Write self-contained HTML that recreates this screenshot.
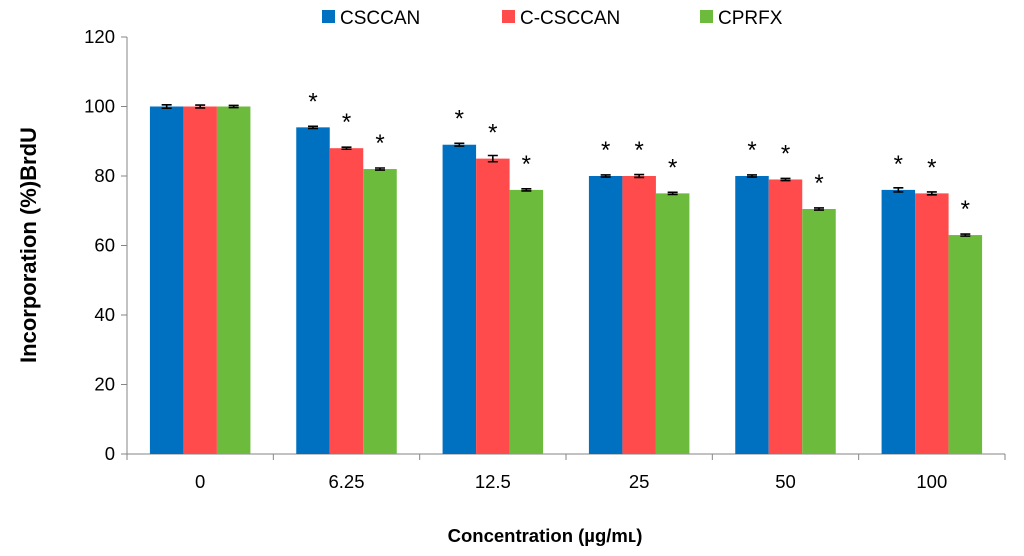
<!DOCTYPE html>
<html><head><meta charset="utf-8"><style>
html,body{margin:0;padding:0;background:#fff;}
svg{display:block;font-family:"Liberation Sans","DejaVu Sans",sans-serif;}
</style></head><body>
<svg id="chart" width="1024" height="556" viewBox="0 0 1024 556"></svg>
<script>
const categories = ["0","6.25","12.5","25","50","100"];
const seriesNames = ["CSCCAN","C-CSCCAN","CPRFX"];
const csccan = [100,94,89,80,80,76];
const ccsccan = [100,88,85,80,79,75];
const cprfx = [100,82,76,75,70.5,63];
const errCsccan = [0.5,0.3,0.4,0.3,0.3,0.6];
const errCcsccan = [0.4,0.3,0.9,0.4,0.3,0.4];
const errCprfx = [0.3,0.3,0.3,0.3,0.3,0.3];
const starred = [false,true,true,true,true,true];
const yTicks = [0,20,40,60,80,100,120];
const colors = ["#0070C0","#FF4B4B","#6CBB3C"];

const NS="http://www.w3.org/2000/svg";
const svg=document.getElementById('chart');
const x0=127,x1=1005,yBase=454,yTop=37,yMax=120;
const yS=v=>yBase-(v/yMax)*(yBase-yTop);
const gw=(x1-x0)/categories.length;
const gC=i=>x0+gw*(i+0.5);
const bw=33.5;
function mk(t,a,p){const e=document.createElementNS(NS,t);for(const k in a)e.setAttribute(k,a[k]);(p||svg).appendChild(e);return e;}

let ax=mk('line',{x1:x0,y1:yTop,x2:x0,y2:yBase,stroke:'#868686','stroke-width':1});


let xa=mk('line',{x1:x0,y1:yBase,x2:x1,y2:yBase,stroke:'#868686','stroke-width':1});


yTicks.forEach(v=>{
  const y=yS(v);
  let tk=mk('line',{x1:x0-6,y1:y,x2:x0,y2:y,stroke:'#868686'});
  
  
  let t=mk('text',{x:x0-12,y:y+6,'text-anchor':'end','font-size':18.5,fill:'#000'});
  t.textContent=v;
  
  
});
for(let i=0;i<=categories.length;i++){
  let tk=mk('line',{x1:x0+gw*i,y1:yBase,x2:x0+gw*i,y2:yBase+6,stroke:'#868686'});
  
  
}
categories.forEach((c,i)=>{
  let t=mk('text',{x:gC(i),y:yBase+34,'text-anchor':'middle','font-size':18.5,fill:'#000'});
  t.textContent=c;
  
  
});
const vals=[csccan,ccsccan,cprfx], errs=[errCsccan,errCcsccan,errCprfx];
categories.forEach((c,i)=>{
  for(let s=0;s<3;s++){
    const v=vals[s][i], cx=gC(i)+(s-1)*bw;
    let r=mk('rect',{x:cx-bw/2,y:yS(v),width:bw,height:yBase-yS(v),fill:colors[s]});
    
    
    const e=errs[s][i];
    let eb=mk('path',{d:`M${cx-5},${yS(v+e)}H${cx+5}M${cx},${yS(v+e)}V${yS(v-e)}M${cx-5},${yS(v-e)}H${cx+5}`,stroke:'#000','stroke-width':1.6,fill:'none'});
    
    
    if(starred[i]){
      let st=mk('text',{x:cx,y:yS(v)-18,'text-anchor':'middle','font-size':24,fill:'#000'});
      st.textContent='*';
      
      
    }
  }
});
const lx=[322,502,700];
seriesNames.forEach((n,s)=>{
  let sq=mk('rect',{x:lx[s],y:10,width:13,height:13,fill:colors[s]});
  
  
  let t=mk('text',{x:lx[s]+18,y:24,'font-size':19,fill:'#000'});
  t.textContent=n;
  
  
});
let yt=mk('text',{x:0,y:0,transform:'translate(36,245) rotate(-90)','text-anchor':'middle','font-size':22,'font-weight':'bold',fill:'#000'});
yt.textContent='Incorporation (%)BrdU';


let xt=mk('text',{x:545,y:542,'text-anchor':'middle','font-size':18.5,'font-weight':'bold',fill:'#000'});
xt.textContent='Concentration (µg/mʟ)';


</script>
</body></html>
